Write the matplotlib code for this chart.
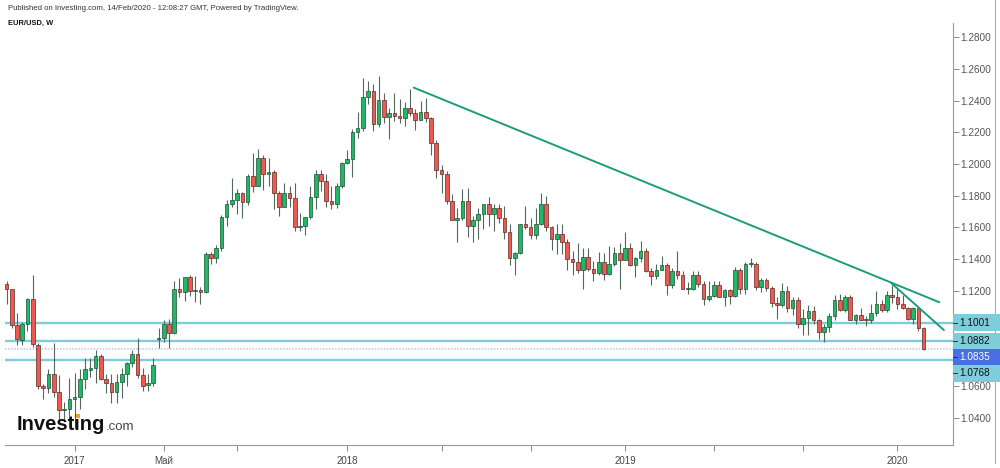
import numpy as np
import pandas as pd
import matplotlib
matplotlib.use('Agg')
import matplotlib.pyplot as plt
from matplotlib.patches import Rectangle
from matplotlib.lines import Line2D

plt.rcParams['font.family'] = ['Liberation Sans', 'DejaVu Sans']

# weekly EUR/USD candles, first week starts 2016-10-03
first_week = '2016-10-03'

opens = [
    1.1245, 1.1210, 1.0985, 1.0892, 1.0995, 1.1150, 1.0860, 1.0600, 1.0590, 1.0680,
    1.0565, 1.0450, 1.0455, 1.0520, 1.0535, 1.0645, 1.0705, 1.0715, 1.0790, 1.0645,
    1.0620, 1.0565, 1.0625, 1.0680, 1.0745, 1.0805, 1.0670, 1.0605, 1.0620, 1.0900,
    1.0905, 1.0995, 1.0935, 1.1215, 1.1195, 1.1290, 1.1200, 1.1205, 1.1195, 1.1430,
    1.1405, 1.1470, 1.1665, 1.1750, 1.1775, 1.1820, 1.1760, 1.1925, 1.1860, 1.2035,
    1.1940, 1.1950, 1.1815, 1.1730, 1.1820, 1.1785, 1.1605, 1.1610, 1.1665, 1.1790,
    1.1935, 1.1895, 1.1770, 1.1750, 1.1860, 1.2005, 1.2030, 1.2200, 1.2225, 1.2425,
    1.2460, 1.2250, 1.2405, 1.2295, 1.2320, 1.2305, 1.2290, 1.2350, 1.2320, 1.2280,
    1.2330, 1.2290, 1.2130, 1.1960, 1.1940, 1.1770, 1.1650, 1.1660, 1.1770, 1.1610,
    1.1650, 1.1685, 1.1745, 1.1685, 1.1720, 1.1660, 1.1570, 1.1410, 1.1440, 1.1620,
    1.1600, 1.1550, 1.1625, 1.1750, 1.1605, 1.1525, 1.1560, 1.1510, 1.1400, 1.1385,
    1.1335, 1.1415, 1.1340, 1.1315, 1.1380, 1.1305, 1.1370, 1.1440, 1.1395, 1.1470,
    1.1365, 1.1405, 1.1455, 1.1325, 1.1295, 1.1335, 1.1365, 1.1235, 1.1325, 1.1300,
    1.1215, 1.1215, 1.1300, 1.1245, 1.1150, 1.1170, 1.1235, 1.1160, 1.1205, 1.1170,
    1.1335, 1.1210, 1.1370, 1.1370, 1.1225, 1.1270, 1.1220, 1.1125, 1.1110, 1.1200,
    1.1090, 1.1145, 1.0990, 1.1030, 1.1075, 1.1015, 1.0940, 1.0975, 1.1040, 1.1145,
    1.1080, 1.1165, 1.1020, 1.1050, 1.1020, 1.1015, 1.1060, 1.1120, 1.1080, 1.1175,
    1.1165, 1.1120, 1.1090, 1.1025, 1.1095, 1.0970,
]
highs = [
    1.1262, 1.1215, 1.1060, 1.1005, 1.1155, 1.1300, 1.0875, 1.0615, 1.0710, 1.0875,
    1.0670, 1.0500, 1.0655, 1.0685, 1.0710, 1.0775, 1.0775, 1.0830, 1.0800, 1.0680,
    1.0680, 1.0680, 1.0715, 1.0750, 1.0830, 1.0905, 1.0715, 1.0680, 1.0780, 1.0965,
    1.1020, 1.1025, 1.1265, 1.1280, 1.1285, 1.1300, 1.1295, 1.1225, 1.1445, 1.1445,
    1.1490, 1.1680, 1.1775, 1.1910, 1.1845, 1.1825, 1.1940, 1.2070, 1.2092, 1.2055,
    1.2035, 1.1960, 1.1830, 1.1880, 1.1860, 1.1880, 1.1690, 1.1665, 1.1860, 1.1960,
    1.1960, 1.1940, 1.1860, 1.1880, 1.2010, 1.2090, 1.2220, 1.2325, 1.2540, 1.2520,
    1.2505, 1.2555, 1.2445, 1.2355, 1.2445, 1.2410, 1.2390, 1.2475, 1.2345, 1.2395,
    1.2415, 1.2295, 1.2150, 1.1995, 1.1955, 1.1810, 1.1720, 1.1840, 1.1850, 1.1675,
    1.1720, 1.1750, 1.1790, 1.1745, 1.1750, 1.1735, 1.1620, 1.1445, 1.1625, 1.1735,
    1.1660, 1.1720, 1.1815, 1.1800, 1.1610, 1.1620, 1.1620, 1.1530, 1.1455, 1.1500,
    1.1470, 1.1470, 1.1390, 1.1445, 1.1440, 1.1485, 1.1475, 1.1500, 1.1570, 1.1500,
    1.1415, 1.1515, 1.1470, 1.1345, 1.1370, 1.1420, 1.1375, 1.1345, 1.1450, 1.1325,
    1.1255, 1.1325, 1.1325, 1.1265, 1.1265, 1.1265, 1.1265, 1.1215, 1.1210, 1.1350,
    1.1345, 1.1385, 1.1410, 1.1380, 1.1285, 1.1285, 1.1230, 1.1165, 1.1250, 1.1230,
    1.1160, 1.1165, 1.1085, 1.1110, 1.1105, 1.1025, 1.0995, 1.1060, 1.1175, 1.1180,
    1.1175, 1.1175, 1.1055, 1.1095, 1.1045, 1.1115, 1.1200, 1.1145, 1.1200, 1.1240,
    1.1215, 1.1175, 1.1100, 1.1100, 1.1095, 1.0975,
]
lows = [
    1.1120, 1.0965, 1.0860, 1.0860, 1.0950, 1.0850, 1.0580, 1.0520, 1.0560, 1.0530,
    1.0365, 1.0380, 1.0390, 1.0340, 1.0455, 1.0580, 1.0660, 1.0620, 1.0640, 1.0560,
    1.0495, 1.0495, 1.0525, 1.0600, 1.0720, 1.0650, 1.0570, 1.0570, 1.0600, 1.0840,
    1.0880, 1.0840, 1.0930, 1.1160, 1.1135, 1.1170, 1.1130, 1.1120, 1.1185, 1.1370,
    1.1375, 1.1450, 1.1612, 1.1730, 1.1688, 1.1662, 1.1740, 1.1823, 1.1860, 1.1838,
    1.1860, 1.1717, 1.1670, 1.1730, 1.1730, 1.1575, 1.1575, 1.1555, 1.1655, 1.1715,
    1.1830, 1.1730, 1.1715, 1.1720, 1.1850, 1.2000, 1.1915, 1.2165, 1.2210, 1.2375,
    1.2205, 1.2235, 1.2260, 1.2155, 1.2270, 1.2260, 1.2240, 1.2300, 1.2215, 1.2280,
    1.2265, 1.2055, 1.1910, 1.1820, 1.1750, 1.1645, 1.1510, 1.1650, 1.1540, 1.1510,
    1.1530, 1.1590, 1.1610, 1.1575, 1.1630, 1.1530, 1.1365, 1.1300, 1.1430, 1.1590,
    1.1530, 1.1525, 1.1615, 1.1575, 1.1460, 1.1430, 1.1430, 1.1335, 1.1300, 1.1315,
    1.1215, 1.1325, 1.1265, 1.1300, 1.1270, 1.1300, 1.1360, 1.1215, 1.1395, 1.1355,
    1.1290, 1.1385, 1.1320, 1.1235, 1.1275, 1.1335, 1.1175, 1.1220, 1.1275, 1.1210,
    1.1180, 1.1205, 1.1225, 1.1110, 1.1135, 1.1160, 1.1160, 1.1105, 1.1115, 1.1160,
    1.1180, 1.1180, 1.1350, 1.1205, 1.1195, 1.1200, 1.1100, 1.1025, 1.1100, 1.1065,
    1.1050, 1.0965, 1.0925, 1.0925, 1.0990, 1.0900, 1.0880, 1.0940, 1.1020, 1.1075,
    1.1070, 1.1015, 1.0990, 1.1015, 1.0980, 1.1000, 1.1040, 1.1065, 1.1070, 1.1125,
    1.1085, 1.1085, 1.1020, 1.0990, 1.0950, 1.0830,
]
closes = [
    1.1215, 1.0985, 1.0895, 1.0995, 1.1150, 1.0865, 1.0600, 1.0590, 1.0680, 1.0565,
    1.0450, 1.0455, 1.0520, 1.0535, 1.0645, 1.0710, 1.0715, 1.0790, 1.0645, 1.0620,
    1.0565, 1.0625, 1.0680, 1.0745, 1.0805, 1.0670, 1.0600, 1.0620, 1.0735, 1.0905,
    1.0995, 1.0935, 1.1215, 1.1195, 1.1290, 1.1200, 1.1205, 1.1195, 1.1430, 1.1405,
    1.1470, 1.1665, 1.1750, 1.1775, 1.1820, 1.1760, 1.1925, 1.1860, 1.2035, 1.1940,
    1.1950, 1.1815, 1.1730, 1.1820, 1.1785, 1.1605, 1.1610, 1.1665, 1.1790, 1.1935,
    1.1895, 1.1770, 1.1750, 1.1860, 1.2005, 1.2030, 1.2200, 1.2225, 1.2425, 1.2460,
    1.2250, 1.2405, 1.2295, 1.2320, 1.2305, 1.2290, 1.2350, 1.2320, 1.2280, 1.2330,
    1.2290, 1.2130, 1.1960, 1.1940, 1.1770, 1.1650, 1.1660, 1.1770, 1.1610, 1.1650,
    1.1685, 1.1745, 1.1685, 1.1720, 1.1660, 1.1570, 1.1410, 1.1440, 1.1620, 1.1600,
    1.1550, 1.1625, 1.1750, 1.1605, 1.1525, 1.1560, 1.1510, 1.1400, 1.1385, 1.1335,
    1.1415, 1.1340, 1.1315, 1.1380, 1.1305, 1.1370, 1.1440, 1.1395, 1.1470, 1.1365,
    1.1405, 1.1455, 1.1325, 1.1295, 1.1335, 1.1365, 1.1235, 1.1325, 1.1300, 1.1215,
    1.1215, 1.1300, 1.1245, 1.1150, 1.1170, 1.1235, 1.1160, 1.1205, 1.1170, 1.1335,
    1.1210, 1.1370, 1.1370, 1.1225, 1.1270, 1.1220, 1.1125, 1.1110, 1.1200, 1.1090,
    1.1145, 1.0990, 1.1030, 1.1075, 1.1015, 1.0940, 1.0975, 1.1040, 1.1145, 1.1080,
    1.1165, 1.1020, 1.1050, 1.1020, 1.1015, 1.1060, 1.1120, 1.1080, 1.1175, 1.1165,
    1.1120, 1.1090, 1.1025, 1.1095, 1.0970, 1.0835,
]

level_prices = [1.1001, 1.0882, 1.0768]
last_price = 1.0835

trend_dates = [['2018-03-31', '2020-03-02'], ['2019-12-29', '2020-03-08']]
trend_prices = [[1.2481, 1.1129], [1.1249, 1.0954]]

tick_dates = ['2017-01-02', '2017-05-01', '2017-08-07', '2018-01-01', '2018-05-07',
              '2018-09-03', '2019-01-07', '2019-05-06', '2019-09-02', '2020-01-06']
tick_labels = ['2017', 'Май', '', '2018', '', '', '2019', '', '', '2020']

W, H = 1000, 468
green = '#1fb866'
red = '#f0594f'
wick = '#50695a'
teal = '#7dcdda'
trend_col = '#1d9c7c'


def week_pos(d):
    return (pd.Timestamp(d) - pd.Timestamp(first_week)).days / 7.0


fig = plt.figure(figsize=(W / 100, H / 100), dpi=100)
fig.patch.set_facecolor('white')
ax = fig.add_axes([5 / W, 1 - 445 / H, 948 / W, 422 / H])

o = np.array(opens)
c = np.array(closes)
x = np.arange(len(c))
up = c >= o
bottom = np.minimum(o, c)
height = np.maximum(np.abs(c - o), 0.0006)

ax.vlines(x, lows, highs, color=wick, lw=0.8, zorder=2)
ax.bar(x[up], height[up], bottom=bottom[up], width=0.7, color=green,
       edgecolor='#1f4f35', lw=0.5, zorder=3)
ax.bar(x[~up], height[~up], bottom=bottom[~up], width=0.7, color=red,
       edgecolor='#5a2a26', lw=0.5, zorder=3)

for p in level_prices:
    ax.axhline(p, color=teal, lw=1.7, zorder=1.5)
ax.axhline(last_price, color='#b9c3f2', lw=1.1, ls=(0, (1, 1)), zorder=1.5)

for d, p in zip(trend_dates, trend_prices):
    ax.plot([week_pos(d[0]), week_pos(d[1])], p, color=trend_col, lw=1.4,
            zorder=4, solid_capstyle='round')

ax.set_xlim(-0.29, 180.6)
ax.set_ylim(1.02299, 1.28882)

ax.set_xticks([week_pos(d) for d in tick_dates])
ax.set_xticklabels(tick_labels)
ax.set_yticks(np.arange(1.04, 1.2801, 0.02))
ax.set_yticklabels(['%.4f' % v for v in np.arange(1.04, 1.2801, 0.02)])
ax.yaxis.tick_right()
ax.tick_params(axis='x', length=4, width=0.7, color='#888', labelsize=7,
               labelcolor='#444', pad=4)
ax.tick_params(axis='y', length=4, width=0.7, color='#888', labelsize=7.2,
               labelcolor='#555', pad=1.5)
for s in ['top', 'left']:
    ax.spines[s].set_visible(False)
for s in ['right', 'bottom']:
    ax.spines[s].set_color('#999')
    ax.spines[s].set_linewidth(0.8)

# price labels on the axis, pushed apart so they do not overlap
boxes = [(p, teal, '#111') for p in level_prices] + [(last_price, '#4a6fe3', 'white')]
boxes.sort(key=lambda b: -b[0])
prev = -100
for p, fc, tc in boxes:
    yd = ax.transData.transform((0, p))[1]
    ypx = H - yd
    ypx = max(ypx, prev + 16)
    prev = ypx
    fig.patches.append(Rectangle((953 / W, 1 - (ypx + 8.5) / H), 47 / W, 17 / H,
                                 transform=fig.transFigure, fc=fc, ec='none', zorder=5))
    fig.lines.append(Line2D([953 / W, 957 / W], [1 - ypx / H, 1 - ypx / H],
                            transform=fig.transFigure, color='#333', lw=0.7, zorder=6))
    fig.text(959.5 / W, 1 - ypx / H, '%.4f' % p, color=tc, fontsize=7.2,
             va='center', ha='left', zorder=7)

fig.lines.append(Line2D([995 / W, 995 / W], [1 - 463 / H, 1], transform=fig.transFigure,
                        color='#aaa', lw=0.8))

fig.text(8 / W, 1 - 8 / H, 'Published on Investing.com, 14/Feb/2020 - 12:08:27 GMT, Powered by TradingView.',
         fontsize=5.6, color='#333', va='center', ha='left')
fig.text(8 / W, 1 - 23 / H, 'EUR/USD, W', fontsize=5.4, color='#111', weight='bold',
         va='center', ha='left')

# logo
logo_size = 14.5
logo = fig.text(17 / W, 1 - 430 / H, 'Investing', fontsize=logo_size, weight='bold',
                color='#111', va='baseline', ha='left', zorder=8)
fig.canvas.draw()
r = fig.canvas.get_renderer()
bb = logo.get_window_extent(r)
fig.text(bb.x1 / W, 1 - 430 / H, '.com', fontsize=9.5, color='#444',
         va='baseline', ha='left', zorder=8)
pre = fig.text(17 / W, 1 - 430 / H, 'Invest', fontsize=logo_size, weight='bold',
               va='baseline', ha='left', alpha=0)
pre2 = fig.text(17 / W, 1 - 430 / H, 'Investi', fontsize=logo_size, weight='bold',
                va='baseline', ha='left', alpha=0)
xa = pre.get_window_extent(r).x1
xb = pre2.get_window_extent(r).x1
pre.remove()
pre2.remove()
fig.patches.append(Rectangle(((xa + xb) / 2 / W - 2 / W, 1 - 418 / H), 4 / W, 4 / H,
                             transform=fig.transFigure, fc='#f6a01a', ec='none', zorder=9))

fig.savefig('out.png', dpi=100, facecolor='white')
